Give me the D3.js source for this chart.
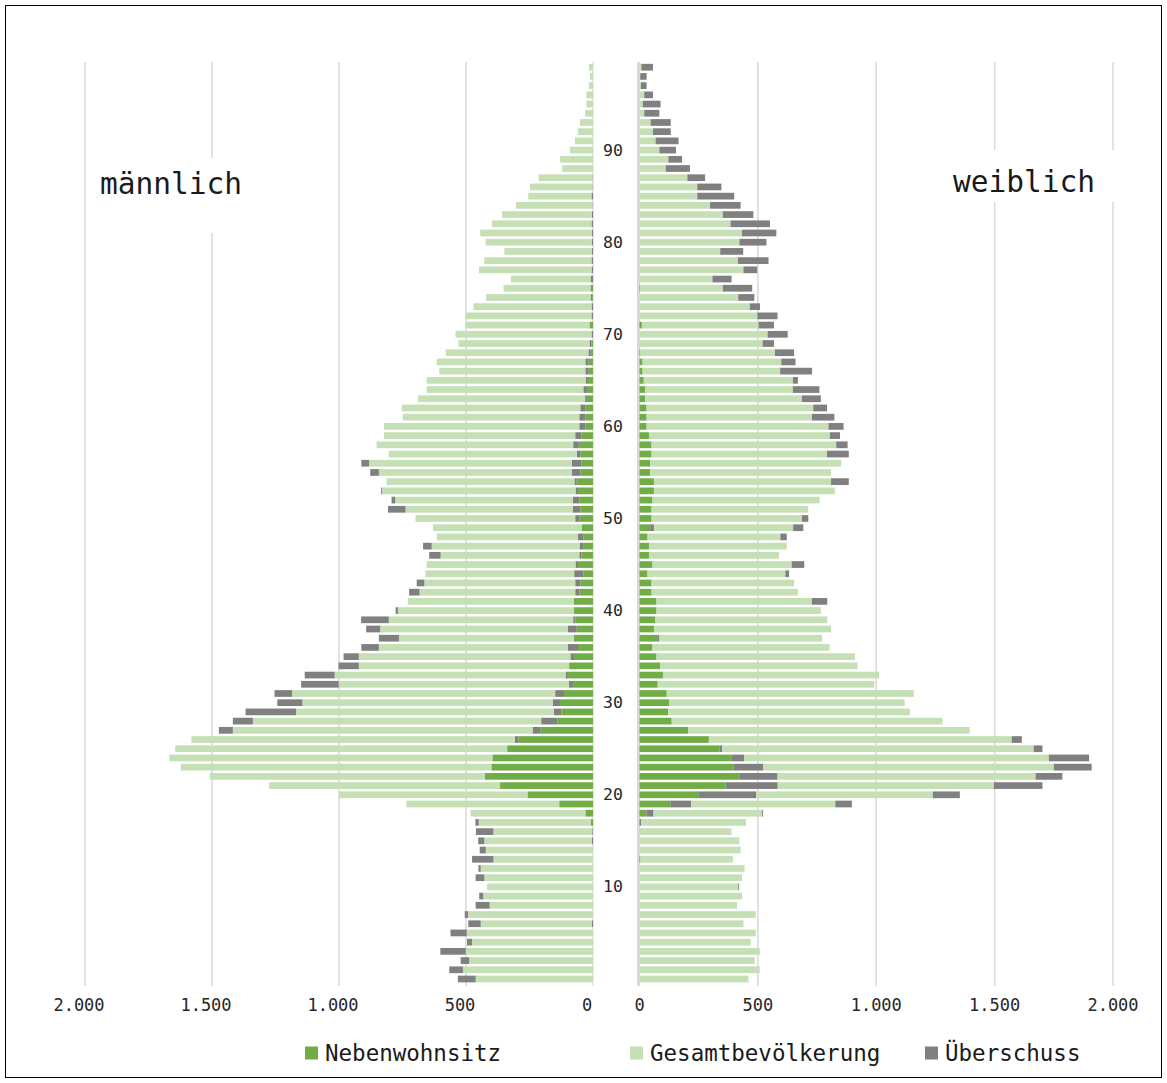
<!DOCTYPE html>
<html><head><meta charset="utf-8">
<script src="https://cdn.jsdelivr.net/npm/d3@7"></script>
<style>body{margin:0;background:#fff}svg{display:block}</style>
</head><body><div id="chart"></div>
<script>
// ages 0..99 (index = age)
const ages = d3.range(0, 100);

const maleNeben = [0,0,0,0,0,0,0,0,0,0, 0,0,0,0,0,0,0,9,30,133, 258,366,426,400,396,338,293,208,139,124, 130,114,79,99,94,75,59,75,64,69, 75,75,54,50,37,59,45,39,37,45, 54,50,54,59,64,50,45,50,56,45, 30,30,30,24,24,20,17,17,9,6, 0,14,0,0,3,10,0,0,0,0, 0,0,0,0,0,0,0,0,0,0, 0,0,0,0,0,0,0,0,0,0];
const maleNebenUeberschuss = [0,0,0,0,0,0,4,0,0,0, 0,0,0,0,0,5,3,0,0,0, 0,0,0,0,0,0,14,30,65,30, 29,35,16,9,0,14,41,0,35,9, 0,0,16,20,37,10,9,14,22,0, 16,29,25,10,9,34,39,14,22,25, 24,24,20,7,14,9,13,13,9,8, 6,0,6,6,5,0,8,6,6,5, 5,5,6,5,2,6,2,2,0,0, 0,0,0,0,0,0,0,0,0,0];
const maleGesamt = [462,512,487,501,476,497,438,492,407,432, 417,428,442,392,422,423,389,441,452,602, 743,909,1083,1223,1272,1307,1274,1180,1135,1015, 985,1036,906,909,828,833,743,689,739,726, 693,654,613,594,586,586,546,582,556,585, 629,659,700,761,740,759,798,740,774,753, 769,695,703,658,617,626,575,585,562,516, 535,487,495,465,413,342,315,443,422,344, 418,439,392,353,301,249,246,212,121,130, 91,71,60,51,31,26,26,16,12,16];
const maleUeberschuss = [70,54,34,100,20,64,49,13,55,16, 0,34,9,84,24,24,69,13,0,0, 0,0,0,0,0,0,0,55,79,199, 99,69,148,118,80,60,69,79,55,109, 9,0,41,30,0,0,45,34,0,0, 0,69,14,4,0,34,30,0,0,0, 0,0,0,0,0,0,0,0,0,0, 0,0,0,0,0,0,0,0,0,0, 0,0,0,0,0,0,0,0,0,0, 0,0,0,0,0,0,0,0,0,0];

const femaleNeben = [0,0,0,0,0,0,0,0,0,0, 0,0,0,0,0,0,0,0,29,130, 251,364,424,397,390,338,293,206,136,121, 126,115,77,99,88,72,55,78,61,67, 72,72,51,51,34,55,40,40,34,45, 51,51,55,61,61,45,45,51,51,40, 30,30,30,24,24,18,13,13,4,0, 0,10,0,0,0,4,0,0,0,0, 0,0,0,0,0,0,0,0,0,0, 0,0,0,0,0,0,0,0,0,0];
const femaleNebenUeberschuss = [0,0,0,0,0,0,0,0,0,0, 0,0,0,4,0,0,0,7,30,89, 242,220,159,126,53,11,0,0,0,0, 0,0,0,0,0,0,0,6,0,0, 0,0,0,0,0,0,0,0,0,16, 0,0,0,0,0,0,0,0,0,0, 0,0,0,0,0,0,0,0,0,0, 0,0,0,0,0,0,0,0,0,0, 0,0,0,0,0,0,0,0,0,0, 0,0,0,0,0,0,0,0,0,0];
const femaleGesamt = [460,508,487,508,470,491,439,491,412,433, 417,433,444,391,427,422,389,443,459,608, 746,913,1090,1227,1286,1316,1279,1189,1144,1021, 994,1044,915,913,833,838,748,687,748,726, 694,656,618,602,582,588,549,582,561,588, 635,662,706,764,748,764,807,741,780,764, 768,698,704,662,624,630,581,586,568,520, 541,493,498,466,417,348,308,439,416,341, 422,433,385,352,298,244,244,202,111,122, 84,68,57,47,20,14,20,6,3,8];
const femaleUeberschuss = [0,0,0,0,0,0,0,0,0,0, 4,0,0,0,0,0,0,0,4,70, 114,205,113,160,170,37,43,0,0,0, 0,0,0,0,0,0,0,0,0,0, 0,65,0,0,16,53,0,0,27,43, 27,0,0,0,75,0,0,92,48,43, 64,95,58,80,112,21,135,60,81,48, 85,65,85,43,68,124,81,58,129,97, 114,145,166,129,129,156,102,75,102,58, 70,97,75,85,64,75,37,24,27,49];

const tickValues = [0, 500, 1000, 1500, 2000];
const ageLabels = [10, 20, 30, 40, 50, 60, 70, 80, 90];
const legendLabels = ["Nebenwohnsitz", "Gesamtbevölkerung", "Überschuss"];
const sideLabels = ["männlich", "weiblich"];

const W = 1167, H = 1083;
const colors = { neben: "#70ad47", nebenUeb: "#808080", gesamt: "#c5e0b4", ueb: "#808080" };
const legendColors = ["#70ad47", "#c5e0b4", "#808080"];
const FONT = "'DejaVu Sans Mono', 'Liberation Mono', monospace";

const svg = d3.select("#chart").append("svg").attr("width", W).attr("height", H);
svg.append("rect").attr("width", W).attr("height", H).attr("fill", "#fff");
svg.append("rect").attr("x", 5.5).attr("y", 5.5).attr("width", 1156).attr("height", 1072)
  .attr("fill", "none").attr("stroke", "#000").attr("stroke-width", 1);

const xL = d3.scaleLinear().domain([0, 2000]).range([593, 85]);
const xR = d3.scaleLinear().domain([0, 2000]).range([639.5, 1113]);
const y = d3.scaleBand().domain(ages.slice().reverse()).range([62.6, 983.6])
  .paddingInner(0.27).paddingOuter(0.135);

// gridlines
const gTop = 62, gBot = 986;
tickValues.slice(1).forEach(v => {
  svg.append("line").attr("x1", xL(v)).attr("x2", xL(v)).attr("y1", gTop).attr("y2", gBot)
    .attr("stroke", "#d9d9d9").attr("stroke-width", 1.5);
  svg.append("line").attr("x1", xR(v)).attr("x2", xR(v)).attr("y1", gTop).attr("y2", gBot)
    .attr("stroke", "#d9d9d9").attr("stroke-width", 1.5);
});
svg.append("line").attr("x1", 593).attr("x2", 593).attr("y1", gTop).attr("y2", gBot)
  .attr("stroke", "#d9d9d9").attr("stroke-width", 1.2);
svg.append("line").attr("x1", 638.5).attr("x2", 638.5).attr("y1", gTop).attr("y2", gBot)
  .attr("stroke", "#d9d9d9").attr("stroke-width", 3);

const keys = ["neben", "nebenUeb", "gesamt", "ueb"];
function table(a, b, c, d) {
  return ages.map(age => ({ age, neben: a[age], nebenUeb: b[age], gesamt: c[age], ueb: d[age] }));
}
const stack = d3.stack().keys(keys);
const maleSeries = stack(table(maleNeben, maleNebenUeberschuss, maleGesamt, maleUeberschuss));
const femaleSeries = stack(table(femaleNeben, femaleNebenUeberschuss, femaleGesamt, femaleUeberschuss));

function drawSide(series, x, left) {
  const g = svg.append("g");
  series.forEach(s => {
    g.append("g").attr("fill", colors[s.key]).selectAll("rect").data(s).join("rect")
      .attr("x", d => left ? x(d[1]) : x(d[0]))
      .attr("width", d => Math.abs(x(d[1]) - x(d[0])))
      .attr("y", d => y(d.data.age))
      .attr("height", y.bandwidth());
  });
}
drawSide(maleSeries, xL, true);
drawSide(femaleSeries, xR, false);

// center age labels
svg.append("g").selectAll("text").data(ageLabels).join("text")
  .attr("x", 613).attr("y", d => y(d) + y.bandwidth() / 2)
  .attr("text-anchor", "middle").attr("dominant-baseline", "central")
  .attr("font-family", FONT).attr("font-size", 16.5).attr("fill", "#262626").text(d => d);

// bottom axes
const fmt = v => d3.format(",")(v).replace(/,/g, ".");
svg.append("g").selectAll("text").data(tickValues).join("text")
  .attr("x", d => xL(d) - 6).attr("y", 1005).attr("text-anchor", "middle").attr("dominant-baseline", "central")
  .attr("font-family", FONT).attr("font-size", 17).attr("fill", "#262626").text(fmt);
svg.append("g").selectAll("text").data(tickValues).join("text")
  .attr("x", d => xR(d)).attr("y", 1005).attr("text-anchor", "middle").attr("dominant-baseline", "central")
  .attr("font-family", FONT).attr("font-size", 17).attr("fill", "#262626").text(fmt);

// side labels with white boxes
svg.append("rect").attr("x", 85.8).attr("y", 158).attr("width", 180).attr("height", 75).attr("fill", "#fff");
svg.append("rect").attr("x", 930).attr("y", 150).attr("width", 186).attr("height", 52).attr("fill", "#fff");
svg.append("text").attr("x", 100).attr("y", 184).attr("dominant-baseline", "central")
  .attr("font-family", FONT).attr("font-size", 29.5).attr("fill", "#1a1a1a").text(sideLabels[0]);
svg.append("text").attr("x", 1095).attr("y", 182).attr("text-anchor", "end").attr("dominant-baseline", "central")
  .attr("font-family", FONT).attr("font-size", 29.5).attr("fill", "#1a1a1a").text(sideLabels[1]);

// legend
const legendX = [305, 630, 925];
const lg = svg.append("g").selectAll("g").data(legendLabels).join("g")
  .attr("transform", (d, i) => `translate(${legendX[i]},1053)`);
lg.append("rect").attr("x", 0).attr("y", -6.5).attr("width", 13).attr("height", 13)
  .attr("fill", (d, i) => legendColors[i]);
lg.append("text").attr("x", 20).attr("y", 0).attr("dominant-baseline", "central")
  .attr("font-family", FONT).attr("font-size", 22.5).attr("fill", "#1a1a1a").text(d => d);
</script></body></html>
